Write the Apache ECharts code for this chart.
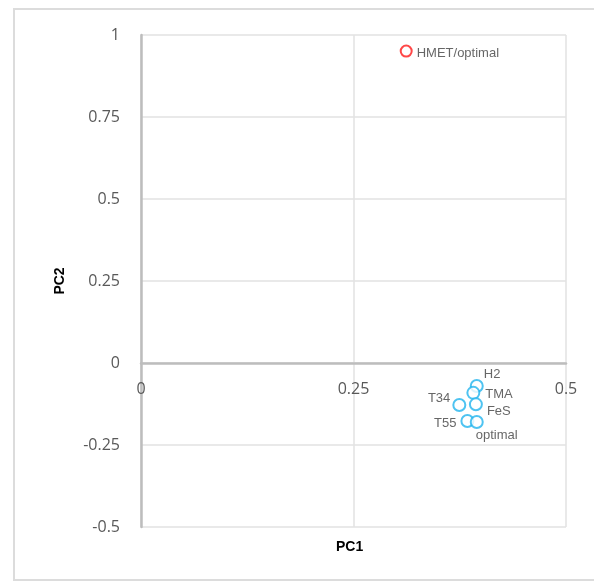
<!DOCTYPE html>
<html>
<head>
<meta charset="utf-8">
<script src="https://cdn.jsdelivr.net/npm/echarts@6/dist/echarts.min.js"></script>
<style>
html, body { margin: 0; padding: 0; background: #fff; }
#main { width: 594px; height: 583px; }
</style>
</head>
<body>
<div id="main"></div>
<script>
// 数据
var redNames = ['HMET/optimal'];
var redPC1 = [0.312];
var redPC2 = [0.951];

var blueNames = ['H2', 'TMA', 'FeS', 'T34', 'T55', 'optimal'];
var bluePC1 = [0.395, 0.391, 0.394, 0.3745, 0.384, 0.395];
var bluePC2 = [-0.070, -0.091, -0.126, -0.128, -0.177, -0.180];

var xTicks = [0, 0.25, 0.5];
var yTicks = [-0.5, -0.25, 0, 0.25, 0.5, 0.75, 1];

// 标签位置
var labelPos = {
    'H2': { position: 'right', distance: 0, offset: [0, -12] },
    'TMA': { position: 'right', distance: 5, offset: [0, 2] },
    'FeS': { position: 'right', distance: 4, offset: [0, 7] },
    'T34': { position: 'left', distance: 2, offset: [0, -7] },
    'T55': { position: 'left', distance: 4, offset: [0, 2] },
    'optimal': { position: 'bottom', distance: 0, offset: [20, 0] },
    'HMET/optimal': { position: 'right', distance: 4, offset: [0, 2] }
};

function buildData(names, xs, ys) {
    var arr = [];
    for (var i = 0; i < names.length; i++) {
        var p = labelPos[names[i]];
        arr.push({
            name: names[i],
            value: [xs[i], ys[i]],
            label: { position: p.position, distance: p.distance, offset: p.offset }
        });
    }
    return arr;
}

var labelFont = 'Liberation Sans Narrow, Liberation Sans, Arial, sans-serif';
var tickFont = 'Open Sans, Noto Sans, sans-serif';

var myChart = echarts.init(document.getElementById('main'));
var option = {
    animation: false,
    backgroundColor: '#fff',
    grid: { left: 141, top: 35, right: 28, bottom: 56 },
    graphic: [
        {
            type: 'rect',
            shape: { x: 14, y: 9, width: 600, height: 571 },
            style: { fill: 'none', stroke: '#dcdcdc', lineWidth: 2 },
            silent: true
        },
        {
            type: 'text',
            left: 336,
            top: 540,
            style: { text: 'PC1', fontSize: 14, fontWeight: 'bold', fill: '#000', fontFamily: 'Liberation Sans, Arial' }
        }
    ],
    xAxis: {
        type: 'value',
        min: 0,
        max: 0.5,
        interval: 0.25,
        axisLine: { show: true, onZero: true, lineStyle: { color: '#bdbdbd', width: 2.5 } },
        axisTick: { show: false },
        splitLine: { show: true, lineStyle: { color: '#e2e2e2', width: 1.5 } },
        axisLabel: {
            color: '#595959',
            fontSize: 16,
            fontFamily: tickFont,
            margin: -146,
            formatter: function (v) { return xTicks.indexOf(v) >= 0 ? String(v) : ''; }
        }
    },
    yAxis: {
        type: 'value',
        min: -0.5,
        max: 1,
        interval: 0.25,
        name: 'PC2',
        nameLocation: 'middle',
        nameGap: 74,
        nameRotate: 90,
        nameTextStyle: { fontSize: 14, fontWeight: 'bold', color: '#000', fontFamily: 'Liberation Sans, Arial' },
        axisLine: { show: true, onZero: false, lineStyle: { color: '#bdbdbd', width: 2.5 } },
        axisTick: { show: false },
        splitLine: { show: true, lineStyle: { color: '#e2e2e2', width: 1.5 } },
        axisLabel: {
            color: '#595959',
            fontSize: 16,
            fontFamily: tickFont,
            margin: 21,
            formatter: function (v) { return yTicks.indexOf(v) >= 0 ? String(v) : ''; }
        }
    },
    series: [
        {
            type: 'scatter',
            symbol: 'emptyCircle',
            symbolSize: 11,
            itemStyle: { color: '#ff1a1a', borderColor: '#ff1a1a', borderWidth: 2.5 },
            label: { show: true, formatter: '{b}', color: '#404040', fontSize: 13, fontFamily: labelFont },
            data: buildData(redNames, redPC1, redPC2)
        },
        {
            type: 'scatter',
            symbol: 'emptyCircle',
            symbolSize: 12,
            itemStyle: { color: '#22b4ee', borderColor: '#22b4ee', borderWidth: 2.5 },
            label: { show: true, formatter: '{b}', color: '#404040', fontSize: 13, fontFamily: labelFont },
            data: buildData(blueNames, bluePC1, bluePC2)
        }
    ]
};
myChart.setOption(option);
</script>
</body>
</html>
